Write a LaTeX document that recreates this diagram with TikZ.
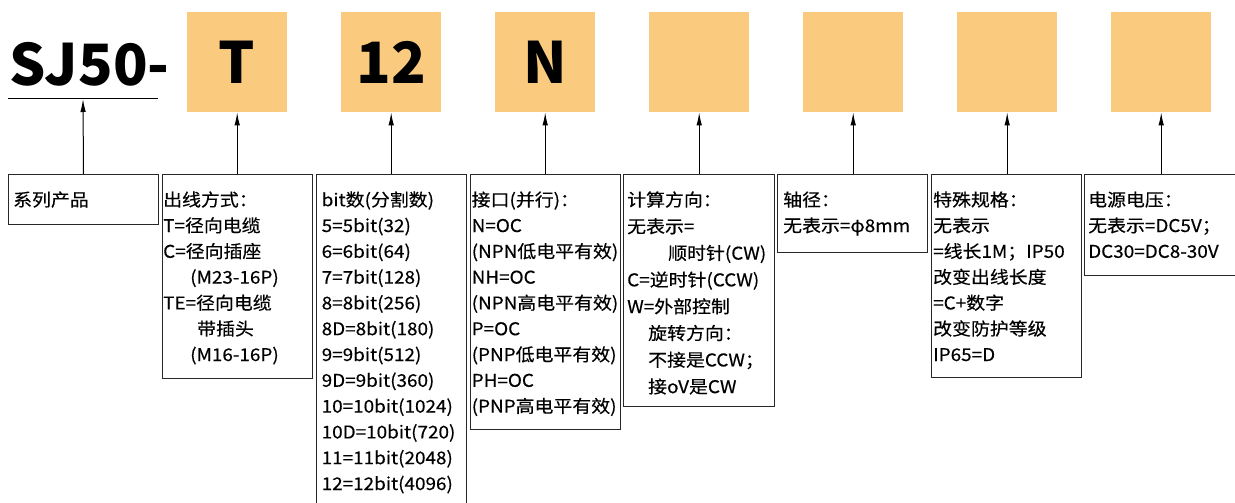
\documentclass[tikz,border=0pt]{standalone}
\usepackage{fontspec}
\newfontfamily\cjk[FakeStretch=1.08,FakeBold=0.4]{Noto Sans CJK SC}
\newfontfamily\cjkbig{Noto Sans CJK SC}
\usetikzlibrary{arrows.meta}
\definecolor{boxorange}{RGB}{250,203,126}
\definecolor{edge}{RGB}{40,40,40}
\begin{document}
\begin{tikzpicture}[x=1pt,y=-1pt,
  code/.style={fill=boxorange, minimum width=100pt, minimum height=100pt, inner sep=0pt, anchor=north west,
    font={\cjkbig\bfseries\fontsize{57}{60}\selectfont}},
  desc/.style={draw=edge, line width=1pt, inner sep=0pt, anchor=north west},
  txt/.style={inner sep=0pt, anchor=north west, align=left, font={\cjk\fontsize{17.5}{25.8}\selectfont}},
  txtw/.style={txt, font={\cjk\fontsize{17.5}{26.7}\selectfont}},
  big/.style={inner sep=0pt, anchor=base west, font={\cjkbig\bfseries\fontsize{57}{60}\selectfont}},
  arr/.style={draw=black, line width=1pt, -{Latex[length=13pt,width=5.5pt]}},
  uline/.style={draw=black, line width=1pt}]
\useasboundingbox (0,0) rectangle (1235,503);

% header
\node[big] (sj) at (9.5,85) {SJ50-};
\coordinate (ulL) at (8,99);
\coordinate (ulR) at (158,99);
\coordinate (ul) at (83,99);
\draw[uline] (ulL) -- (ulR);

% code boxes
\node[code] (o1) at (187,12) {T};
\node[code] (o2) at (341,12) {12};
\node[code] (o3) at (495,12) {N};
\node[code] (o4) at (649,12) {};
\node[code] (o5) at (803,12) {};
\node[code] (o6) at (957,12) {};
\node[code] (o7) at (1111,12) {};

% description boxes
\node[desc, minimum width=150pt, minimum height=50pt] (b1) at (8,174) {};
\node[desc, minimum width=150pt, minimum height=204pt] (b2) at (162,174) {};
\node[desc, minimum width=150.5pt, minimum height=345pt] (b3) at (315.5,174) {};
\node[desc, minimum width=150.5pt, minimum height=255pt] (b4) at (469.5,174) {};
\node[desc, minimum width=151pt, minimum height=232pt] (b5) at (623,174) {};
\node[desc, minimum width=150pt, minimum height=78pt] (b6) at (777,174) {};
\node[desc, minimum width=150.5pt, minimum height=203pt] (b7) at (930.5,174) {};
\node[desc, minimum width=165pt, minimum height=101pt] (b8) at (1084,174) {};

% texts
\node[txt] (t1) at (13,186) {\rule{0pt}{20pt}系列产品};
\node[txt] (t2) at (163,186) {\rule{0pt}{20pt}出线方式：\\T=径向电缆\\C=径向插座\\\hspace*{27pt}(M23-16P)\\TE=径向电缆\\\hspace*{34pt}带插头\\\hspace*{27pt}(M16-16P)};
\node[txt] (t3) at (321.5,186) {\rule{0pt}{20pt}bit数(分割数)\\5=5bit(32)\\6=6bit(64)\\7=7bit(128)\\8=8bit(256)\\8D=8bit(180)\\9=9bit(512)\\9D=9bit(360)\\10=10bit(1024)\\10D=10bit(720)\\11=11bit(2048)\\12=12bit(4096)};
\node[txt] (t4) at (471.5,186) {\rule{0pt}{20pt}接口(并行)：\\N=OC\\(NPN低电平有效)\\NH=OC\\(NPN高电平有效)\\P=OC\\(PNP低电平有效)\\PH=OC\\(PNP高电平有效)};
\node[txtw] (t5) at (627,186) {\rule{0pt}{20pt}计算方向：\\无表示=\\\hspace*{41pt}顺时针(CW)\\C=逆时针(CCW)\\W=外部控制\\\hspace*{21pt}旋转方向：\\\hspace*{21pt}不接是CCW；\\\hspace*{21pt}接oV是CW};
\node[txt] (t6) at (783,186) {\rule{0pt}{20pt}轴径：\\无表示=φ8mm};
\node[txt] (t7) at (933,186) {\rule{0pt}{20pt}特殊规格：\\无表示\\=线长1M；IP50\\改变出线长度\\=C+数字\\改变防护等级\\IP65=D};
\node[txt] (t8) at (1088,186) {\rule{0pt}{20pt}电源电压：\\无表示=DC5V；\\DC30=DC8-30V};

% arrows
\draw[arr] (b1.north) -- (ul);
\draw[arr] (o1.south |- b2.north) -- (o1.south);
\draw[arr] (o2.south |- b3.north) -- (o2.south);
\draw[arr] (o3.south |- b4.north) -- (o3.south);
\draw[arr] (o4.south |- b5.north) -- (o4.south);
\draw[arr] (o5.south |- b6.north) -- (o5.south);
\draw[arr] (o6.south |- b7.north) -- (o6.south);
\draw[arr] (o7.south |- b8.north) -- (o7.south);
\end{tikzpicture}
\end{document}
